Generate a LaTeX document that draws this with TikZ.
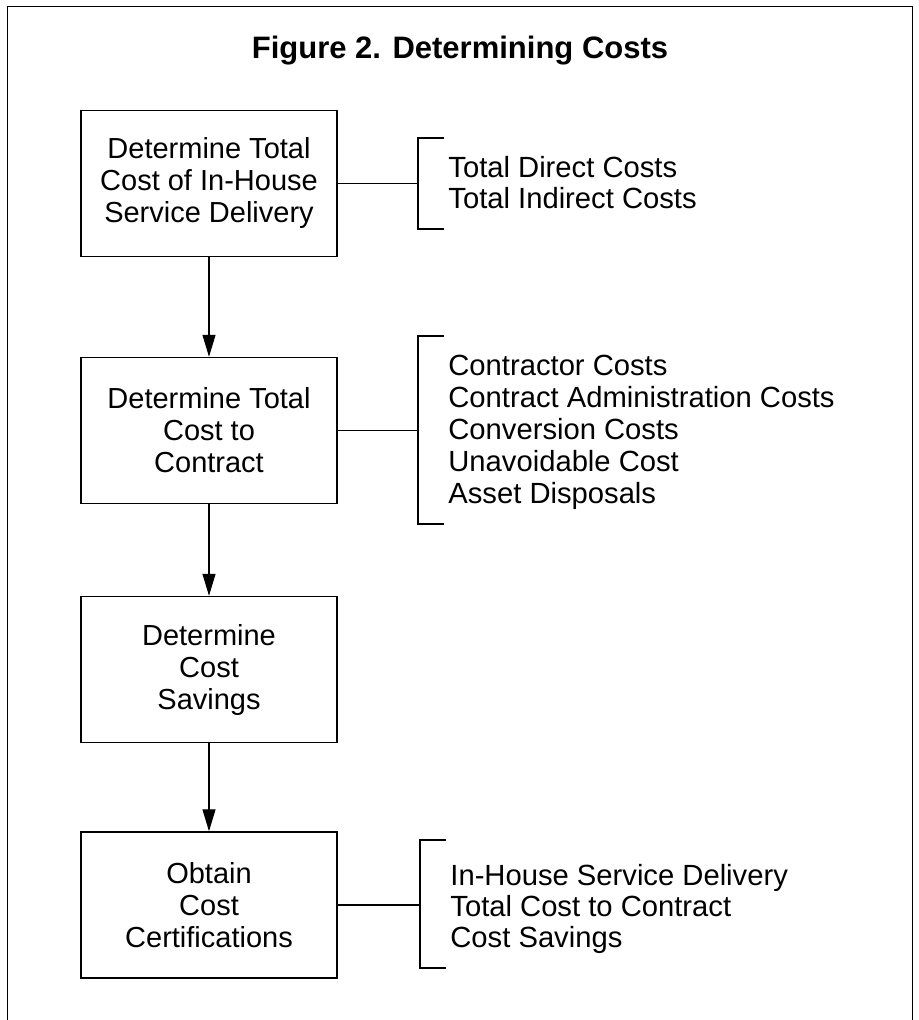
\documentclass[tikz,border=0pt]{standalone}
\usepackage{fontspec}
\setmainfont{Liberation Sans}
\usetikzlibrary{arrows.meta}

\begin{document}
\begin{tikzpicture}[x=0.5pt, y=-0.5pt,
    every node/.style={font=\fontsize{14.5}{16}\selectfont},
    stepbox/.style={draw, line width=0.7pt, minimum width=128pt, minimum height=73pt, align=center, inner sep=0pt},
    costlist/.style={anchor=west, align=left, inner sep=0pt, font=\fontsize{14.6}{15.5}\selectfont},
    link/.style={line width=0.6pt},
    >={Triangle[length=11pt, width=6.5pt]}]
    \useasboundingbox (0,0) rectangle (918,1020);

    % Frame (open at the bottom)
    \draw[line width=0.5pt] (7,1020) -- (7,7) -- (912,7) -- (912,1020);

    % Title
    \node[font=\fontsize{15.5}{18}\selectfont\bfseries] (title) at (460,51) {Figure 2. Determining Costs};

    % Steps
    \node[stepbox] (inhouse) at (209,183.5) {Determine Total\\Cost of In-House\\Service Delivery};
    \node[stepbox] (contract) at (209,430.5) {Determine Total\\Cost to\\Contract};
    \node[stepbox] (savings) at (209,669.5) {Determine\\Cost\\Savings};
    \node[stepbox] (certify) at (209,905) {Obtain\\Cost\\Certifications};

    % Arrows between steps
    \draw[link, ->] (inhouse.south) -- (contract.north);
    \draw[link, ->] (contract.south) -- (savings.north);
    \draw[link, ->] (savings.south) -- (certify.north);

    % Cost lists
    \node[costlist] (list1) at (448,183) {Total Direct Costs\\Total Indirect Costs};
    \node[costlist, font=\fontsize{14.6}{16}\selectfont] (list2) at (448,432) {Contractor Costs\\Contract Administration Costs\\Conversion Costs\\Unavoidable Cost\\Asset Disposals};
    \node[costlist] (list4) at (450,909) {In-House Service Delivery\\Total Cost to Contract\\Cost Savings};

    % Brackets
    \coordinate (br1) at (418,183.5);
    \coordinate (br2) at (418,430.5);
    \coordinate (br4) at (420,905);
    \draw[link] (inhouse.east) -- (br1);
    \draw[link] (444,138) -- (418,138) -- (418,229) -- (444,229);
    \draw[link] (contract.east) -- (br2);
    \draw[link] (444,336) -- (418,336) -- (418,524) -- (444,524);
    \draw[link] (certify.east) -- (br4);
    \draw[link] (446,840) -- (420,840) -- (420,968) -- (446,968);
\end{tikzpicture}
\end{document}
